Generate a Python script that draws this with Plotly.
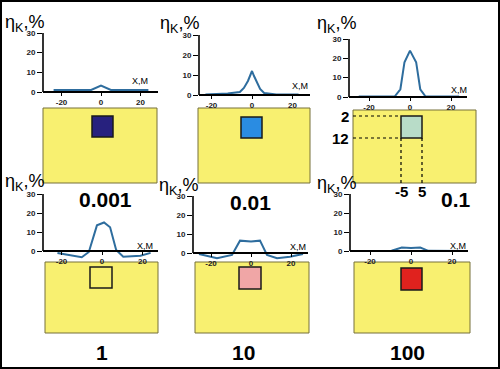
import plotly.graph_objects as go

# ---------------- data ----------------
values = ["0.001", "0.01", "0.1", "1", "10", "100"]

x1 = [-24, -12, -5, 0, 5, 12, 24]
y1 = [1.0, 1.0, 1.0, 3.3, 1.0, 1.0, 1.0]

x2 = [-23, -12, -6, -4, -2, -1, 0, 1, 2, 4, 6, 12, 23]
y2 = [0.3, 0.8, 1.5, 3.5, 7.0, 9.5, 12.0, 9.5, 7.0, 3.0, 1.0, 0.3, 0.3]

x3 = [-25, -7.5, -4.7, -2.7, 0, 3.0, 5.0, 7.6, 24]
y3 = [0.2, 0.2, 4.0, 18.0, 24.0, 18.0, 4.0, 0.2, 0.2]

x4 = [-22, -10, -6.5, -2.5, 1, 4, 7, 10.5, 19, 24]
y4 = [-1.0, -3.3, -0.5, 13.5, 15.0, 12.5, 0.5, -3.0, -2.5, -1.0]

x5 = [-26, -17, -9.5, -5.5, 0, 4.5, 8, 13, 19.5, 26]
y5 = [-0.5, -2.8, -1.0, 6.5, 6.0, 6.5, -1.0, -2.8, -2.0, -0.5]

x6 = [-27, -9.5, -4.5, 0, 4.5, 8.5, 27]
y6 = [0.0, 0.1, 1.8, 1.6, 1.8, 0.1, 0.0]

xs = [x1, x2, x3, x4, x5, x6]
ys = [y1, y2, y3, y4, y5, y6]

square_x = [-5, 5]        # horizontal extent of the zone, m
square_depth = [2, 12]    # depth extent of the zone
square_colors = ["#27217e", "#2a8ce2", "#b8dcc8", "#f8f070", "#f0a6a6", "#e0221e"]

x_tickvals = [-20, 0, 20]
x_ticktext = ["-20", "0", "20"]
y_tickvals = [0, 10, 20, 30]
y_ticktext = ["0", "10", "20", "30"]

# ---------------- layout geometry (pixels) ----------------
W, H = 500, 369
FONT = "Arial, Liberation Sans, sans-serif"
LINE_COLOR = "#2e6d9e"
YELLOW = "#f8f070"

# line plot: L, R (axis px), P0 (px of x=0), s (px per unit), y30 px, y0 px
plots = [
    dict(L=43, R=158, P0=101, s=1.975, y30=33, y0=92),
    dict(L=199, R=310, P0=252, s=2.025, y30=35, y0=95),
    dict(L=349, R=467, P0=410, s=2.05, y30=39, y0=97),
    dict(L=43, R=158, P0=102, s=2.025, y30=194, y0=251),
    dict(L=193, R=308, P0=251, s=2.0, y30=196, y0=253),
    dict(L=350, R=468, P0=411, s=2.05, y30=194, y0=251),
]
# yellow section: box px, and the square px
sections = [
    dict(YL=43, YR=157, YT=108, YB=183, sL=92, sR=113, sT=116, sB=137),
    dict(YL=198, YR=310, YT=108, YB=183, sL=241, sR=262, sT=117, sB=138),
    dict(YL=353, YR=476, YT=110, YB=183, sL=401, sR=422, sT=116, sB=138),
    dict(YL=45, YR=158, YT=262, YB=333, sL=90, sR=112, sT=267, sB=288),
    dict(YL=195, YR=309, YT=262, YB=333, sL=239, sR=261, sT=267, sB=289),
    dict(YL=354, YR=470, YT=262, YB=333, sL=401, sR=422, sT=268, sB=290),
]
eta_pos = [(3, 23), (158, 24), (315, 24), (3, 183), (157, 186), (315, 184)]
xm_pos = [(140, 81), (300, 86), (459, 90), (145, 246), (298, 247), (458, 246)]
num_pos = [(105, 200), (250, 202), (456, 199), (102, 352), (243, 352), (407, 352)]


def fx(px):
    return px / W


def fy(py):
    return 1 - py / H


fig = go.Figure()
layout = dict(
    width=W, height=H,
    margin=dict(l=0, r=0, t=0, b=0),
    paper_bgcolor="white", plot_bgcolor="rgba(0,0,0,0)",
    showlegend=False,
    font=dict(family=FONT, color="black"),
)
shapes = []
annotations = []

for i in range(6):
    n = i + 1
    m = i + 7
    p = plots[i]
    sec = sections[i]
    xa = "x" if n == 1 else f"x{n}"
    ya = "y" if n == 1 else f"y{n}"
    xk = "xaxis" if n == 1 else f"xaxis{n}"
    yk = "yaxis" if n == 1 else f"yaxis{n}"

    k = (p["y0"] - p["y30"]) / 30.0
    T = p["y30"] - 3
    B = p["y0"] + 9
    layout[xk] = dict(
        domain=[fx(p["L"]), fx(p["R"])],
        range=[(p["L"] - p["P0"]) / p["s"], (p["R"] - p["P0"]) / p["s"]],
        anchor="free", position=fy(p["y0"]),
        showline=True, linecolor="black", linewidth=1.6,
        ticks="outside", ticklen=3, tickwidth=1, tickcolor="black",
        tickvals=x_tickvals, ticktext=x_ticktext,
        tickfont=dict(size=8, family=FONT, color="#222", weight="bold"),
        showgrid=False, zeroline=False, fixedrange=True,
    )
    layout[yk] = dict(
        domain=[fy(B), fy(T)],
        range=[(p["y0"] - B) / k, (p["y0"] - T) / k],
        anchor=xa, showline=False,
        ticks="outside", ticklen=5, tickwidth=1, tickcolor="black",
        tickvals=y_tickvals, ticktext=y_ticktext,
        tickfont=dict(size=8, family=FONT, color="#222", weight="bold"),
        showgrid=False, zeroline=False, fixedrange=True,
    )
    fig.add_trace(go.Scatter(
        x=xs[i], y=ys[i], mode="lines", xaxis=xa, yaxis=ya,
        line=dict(color=LINE_COLOR, width=2), hoverinfo="skip",
    ))
    # vertical axis line from 0 to 30
    shapes.append(dict(type="line", xref=f"{xa} domain", yref=ya,
                       x0=0, x1=0, y0=0, y1=30,
                       line=dict(color="black", width=1.6)))

    # yellow section axes
    sx = (sec["sR"] - sec["sL"]) / (square_x[1] - square_x[0])
    sy = (sec["sB"] - sec["sT"]) / (square_depth[1] - square_depth[0])
    xr = [square_x[0] + (sec["YL"] - sec["sL"]) / sx,
          square_x[0] + (sec["YR"] - sec["sL"]) / sx]
    yr = [square_depth[0] + (sec["YB"] - sec["sT"]) / sy,
          square_depth[0] + (sec["YT"] - sec["sT"]) / sy]
    layout[f"xaxis{m}"] = dict(domain=[fx(sec["YL"]), fx(sec["YR"])], range=xr,
                               anchor=f"y{m}", visible=False, fixedrange=True)
    layout[f"yaxis{m}"] = dict(domain=[fy(sec["YB"]), fy(sec["YT"])], range=yr,
                               anchor=f"x{m}", visible=False, fixedrange=True)
    fig.add_trace(go.Scatter(x=[None], y=[None], xaxis=f"x{m}", yaxis=f"y{m}",
                             mode="lines", hoverinfo="skip"))
    shapes.append(dict(type="rect", xref=f"x{m} domain", yref=f"y{m} domain",
                       x0=0, x1=1, y0=0, y1=1, layer="below",
                       fillcolor=YELLOW, line=dict(color="#77703a", width=1)))
    shapes.append(dict(type="rect", xref=f"x{m}", yref=f"y{m}",
                       x0=square_x[0], x1=square_x[1],
                       y0=square_depth[0], y1=square_depth[1],
                       fillcolor=square_colors[i],
                       line=dict(color="#1a1a1a", width=1.5)))

    if i == 2:
        for d in square_depth:
            shapes.append(dict(type="line", xref=f"x{m}", yref=f"y{m}",
                               x0=xr[0], x1=square_x[0], y0=d, y1=d,
                               line=dict(color="black", width=1.2, dash="dot")))
            annotations.append(dict(text=f"<b>{d}</b>", xref="paper", yref=f"y{m}",
                                    x=fx(351), y=d, xanchor="right", yanchor="middle",
                                    showarrow=False, font=dict(size=15, family=FONT)))
        for xv in square_x:
            shapes.append(dict(type="line", xref=f"x{m}", yref=f"y{m}",
                               x0=xv, x1=xv, y0=square_depth[1], y1=yr[0],
                               line=dict(color="black", width=1.2, dash="dot")))
            annotations.append(dict(text=f"<b>{xv}</b>", xref=f"x{m}", yref="paper",
                                    x=xv, y=fy(191), xanchor="center", yanchor="middle",
                                    showarrow=False, font=dict(size=15, family=FONT)))

    ex, ey = eta_pos[i]
    annotations.append(dict(text="η<sub>K</sub>,%", xref="paper", yref="paper",
                            x=fx(ex), y=fy(ey), xanchor="left", yanchor="middle",
                            showarrow=False, font=dict(size=18, family=FONT)))
    mx, my = xm_pos[i]
    annotations.append(dict(text="X,M", xref="paper", yref="paper",
                            x=fx(mx), y=fy(my), xanchor="center", yanchor="middle",
                            showarrow=False, font=dict(size=9, family=FONT)))
    nx, ny = num_pos[i]
    annotations.append(dict(text=f"<b>{values[i]}</b>", xref="paper", yref="paper",
                            x=fx(nx), y=fy(ny), xanchor="center", yanchor="middle",
                            showarrow=False, font=dict(size=21, family=FONT)))

# outer frame
shapes.append(dict(type="rect", xref="paper", yref="paper", x0=0.002, x1=0.998,
                   y0=0.003, y1=0.997, line=dict(color="black", width=2),
                   fillcolor="rgba(0,0,0,0)"))

layout["shapes"] = shapes
layout["annotations"] = annotations
fig.update_layout(**layout)
fig.write_html(
    "out.html",
    config={"displayModeBar": False},
    post_script="document.body.style.margin='0';document.body.style.overflow='hidden';",
)
